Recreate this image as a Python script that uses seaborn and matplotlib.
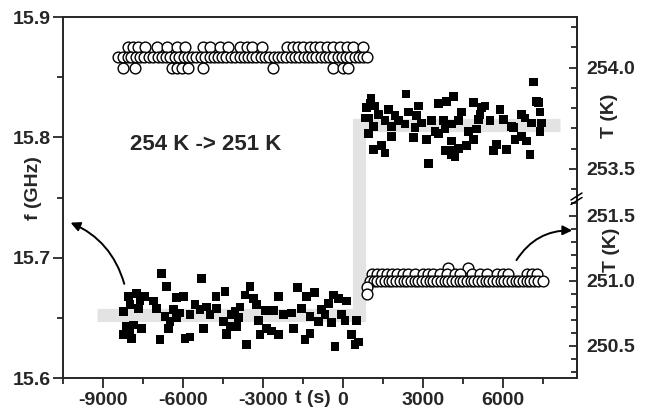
import matplotlib
matplotlib.use("Agg")
import matplotlib.pyplot as plt
from matplotlib.lines import Line2D
from matplotlib.ticker import MultipleLocator
import pandas as pd
import seaborn as sns

# frequency readings (black squares), before and after the step
sq_lo_t = [-6800, -5300, -6610, -8050, -7740, -7425, -7110, -7610, -7990, -6240, -5990, -4425, -4760,
           -8240, -7675, -6990, -6360, -6675, -6110, -5740, -5550, -5360, -5110, -4740, -4990, -8110,
           -7860, -7550, -7990, -8240, -7925, -6550, -6490, -6240, -6860, -5925, -5740, -5240, -4490,
           -4360, -3490, -3675, -3360, -3240, -2425, -1700, -1360, -1075, -360, -175, -550, 140, -4050,
           -3860, -4175, -3925, -2925, -2610, -2240, -1925, -1550, -1240, -800, -675, -925, -425, -50,
           75, 510, -3175, -4240, -3990, -2860, -2675, -2425, -1860, -3110, -1240, -1425, 325, 575, 450,
           -3610, -300, -4360]
sq_lo_f = [15.687, 15.683, 15.676, 15.668, 15.670, 15.668, 15.664, 15.664, 15.661, 15.667, 15.668, 15.672, 15.668,
           15.655, 15.658, 15.658, 15.657, 15.651, 15.654, 15.653, 15.661, 15.657, 15.659, 15.658, 15.653, 15.643,
           15.644, 15.641, 15.639, 15.636, 15.633, 15.641, 15.647, 15.650, 15.632, 15.633, 15.634, 15.641, 15.647,
           15.637, 15.676, 15.669, 15.666, 15.661, 15.668, 15.675, 15.668, 15.671, 15.669, 15.666, 15.662, 15.664, 15.655,
           15.659, 15.653, 15.650, 15.656, 15.656, 15.653, 15.654, 15.658, 15.651, 15.657, 15.653, 15.647, 15.646, 15.653,
           15.648, 15.648, 15.648, 15.643, 15.643, 15.641, 15.639, 15.636, 15.641, 15.636, 15.637, 15.632, 15.636, 15.630, 15.628,
           15.628, 15.626, 15.636]

sq_hi_t = [2362, 1050, 887, 1200, 1700, 2825, 3575, 3887, 4137, 950, 1325, 1950, 2450, 2762, 1575, 2075,
           2950, 3325, 3762, 4075, 1137, 1825, 2325, 2700, 3450, 3825, 950, 1825, 2637, 3137, 3575, 1450,
           1137, 1575, 3200, 4075, 3825, 4075, 4887, 5200, 5325, 5137, 5512, 5887, 6012, 6325, 6387, 6700,
           6825, 7137, 7262, 7325, 7387, 7450, 7387, 7075, 6700, 6887, 7012, 5637, 5762, 6137, 6450, 5012,
           4887, 4637, 4325, 4200, 4012, 5075, 4450, 4325, 4700, 825, 1012]
sq_hi_f = [15.836, 15.832, 15.825, 15.826, 15.823, 15.826, 15.828, 15.830, 15.834, 15.816, 15.819, 15.818, 15.821, 15.818, 15.814, 15.814,
           15.812, 15.814, 15.814, 15.811, 15.809, 15.809, 15.811, 15.808, 15.805, 15.807, 15.803, 15.801, 15.800, 15.798, 15.803, 15.793,
           15.790, 15.787, 15.778, 15.797, 15.789, 15.786, 15.829, 15.825, 15.826, 15.819, 15.814, 15.823, 15.815, 15.809, 15.808, 15.819,
           15.816, 15.846, 15.830, 15.829, 15.821, 15.812, 15.805, 15.812, 15.801, 15.797, 15.786, 15.789, 15.794, 15.790, 15.798, 15.807,
           15.798, 15.793, 15.791, 15.784, 15.789, 15.815, 15.821, 15.814, 15.805, 15.816, 15.828]

# temperature readings (open circles), quantised in 0.05 K steps
hi_levels = [254.1, 254.05, 254.0]
hi_rows_t = [
    [-8050, -7860, -7675, -7425, -6990, -6610, -6240, -5925, -5240, -4990, -4610, -4300, -3860, -3610,
     -3425, -3050, -2110, -1860, -1675, -1490, -1240, -1050, -860, -610, -360, -110, 140, 390, 760],
    [-8420, -8250, -8080, -7940, -7760, -7600, -7450, -7270, -7120, -6950, -6800, -6630, -6480, -6300,
     -6150, -5980, -5820, -5650, -5500, -5330, -5180, -5000, -4850, -4690, -4520, -4370, -4200, -4050,
     -3880, -3720, -3560, -3400, -3250, -3080, -2920, -2760, -2600, -2440, -2280, -2120, -1960, -1800,
     -1640, -1480, -1320, -1160, -1000, -840, -680, -520, -360, -200, -40, 120, 280, 440, 600, 760, 890],
    [-8240, -7800, -6425, -6240, -6050, -5800, -5240, -2610, -360, 10, 200],
]
lo_levels = [251.1, 251.05, 251.0]
lo_rows_t = [
    [3950, 4700],
    [1075, 1262, 1450, 1637, 1825, 2012, 2262, 2450, 2700, 3012, 3200, 3387, 3637, 3887, 4200, 4387,
     4825, 5137, 5387, 5762, 6012, 6200, 6887, 7075, 7262],
    [1010, 1150, 1290, 1430, 1570, 1710, 1850, 1990, 2130, 2270, 2410, 2550, 2690, 2830, 2970, 3110,
     3250, 3390, 3530, 3670, 3810, 3950, 4090, 4230, 4370, 4510, 4650, 4790, 4930, 5070, 5210, 5350,
     5490, 5630, 5770, 5910, 6050, 6190, 6330, 6470, 6610, 6750, 6890, 7030, 7170, 7310, 7510],
]
trans_t = [900, 890]
trans_T = [250.95, 250.90]

# grey guide (step of f)
step_t = [-9225, 600, 600, 8140]
step_f = [15.6525, 15.6525, 15.81, 15.81]

sns.set_style("ticks")
plt.rcParams['font.family'] = ['Liberation Sans', 'DejaVu Sans']
plt.rcParams['font.weight'] = 'bold'
plt.rcParams['axes.unicode_minus'] = False
plt.rcParams['axes.linewidth'] = 1.4

W, H = 659, 415
fig = plt.figure(figsize=(W / 100, H / 100), dpi=100)
L, R, T, B = 63, 577, 17, 378
BRK = 198
ax = fig.add_axes([L / W, (H - B) / H, (R - L) / W, (B - T) / H])
ax_hi = fig.add_axes([L / W, (H - BRK) / H, (R - L) / W, (BRK - T) / H])
ax_lo = fig.add_axes([L / W, (H - B) / H, (R - L) / W, (B - BRK) / H])

xlim = (-10500, 8775)
fs = 14

sq = pd.DataFrame({'t': sq_lo_t + sq_hi_t, 'f': sq_lo_f + sq_hi_f})
step = pd.DataFrame({'t': step_t, 'f': step_f})

sns.lineplot(data=step, x='t', y='f', sort=False, estimator=None, color='#e3e3e3',
             lw=9.5, solid_capstyle='butt', solid_joinstyle='miter', ax=ax, zorder=1)
sns.scatterplot(data=sq, x='t', y='f', marker='s', s=40, color='black', edgecolor='none',
                linewidth=0, ax=ax, zorder=3)

ax.set_xlim(*xlim)
ax.set_ylim(15.6, 15.9)
ax.xaxis.set_minor_locator(MultipleLocator(1500))
ax.yaxis.set_major_locator(MultipleLocator(0.1))
ax.yaxis.set_minor_locator(MultipleLocator(0.05))
ax.set_xticks([-9000, -6000, -3000, 0, 3000, 6000])
ax.set_xticklabels(['-9000', '-6000', '-3000', '0', '3000', '6000'])
ax.tick_params(which='both', direction='out', width=1.3, labelsize=fs, top=False, right=False)
ax.tick_params(which='major', length=7)
ax.tick_params(which='minor', length=4)
ax.tick_params(axis='x', pad=3)
ax.tick_params(axis='y', pad=1.5)
ax.set_xlabel('')
ax.set_ylabel('')
for lab in ax.get_xticklabels() + ax.get_yticklabels():
    lab.set_fontweight('bold')


def circles(rows, levels):
    tt, vv = [], []
    for row, lev in zip(rows, levels):
        tt += row
        vv += [lev] * len(row)
    return pd.DataFrame({'t': tt, 'T': vv})


hi = circles(hi_rows_t, hi_levels)
lo = circles(lo_rows_t, lo_levels)
lo = pd.concat([lo, pd.DataFrame({'t': trans_t, 'T': trans_T})])

for a, d, lim, majors in [(ax_hi, hi, (253.356, 254.25), [253.5, 254.0]),
                          (ax_lo, lo, (250.25, 251.635), [250.5, 251.0, 251.5])]:
    sns.scatterplot(data=d, x='t', y='T', marker='o', s=60, facecolor='white',
                    edgecolor='black', linewidth=1.0, ax=a, zorder=3)
    a.set_xlim(*xlim)
    a.set_ylim(*lim)
    a.patch.set_visible(False)
    for s in ['left', 'top', 'bottom']:
        a.spines[s].set_visible(False)
    a.yaxis.tick_right()
    a.set_yticks(majors)
    a.set_yticklabels([f'{m:.1f}' for m in majors])
    a.yaxis.set_minor_locator(MultipleLocator(0.1))
    a.set_xticks([])
    a.tick_params(which='both', direction='in', width=1.3, labelsize=fs, pad=7, left=False)
    a.tick_params(which='major', length=6)
    a.tick_params(which='minor', length=4)
    a.set_xlabel('')
    a.set_ylabel('')
    for lab in a.get_yticklabels():
        lab.set_fontweight('bold')

# axis break marks on the right spine
for dy in (0, 4.5):
    fig.add_artist(Line2D([(R - 6) / W, (R + 5) / W],
                          [(H - BRK - 2 - dy) / H, (H - BRK + 5 - dy) / H],
                          color='black', lw=1.1))

fig.text(33 / W, 1 - 188 / H, 'f (GHz)', rotation=90, ha='center', va='center',
         fontsize=fs, fontweight='bold')
fig.text(313 / W, 1 - 398 / H, 't (s)', ha='center', va='center', fontsize=fs, fontweight='bold')
fig.text(609 / W, 1 - 116 / H, 'T (K)', rotation=90, ha='center', va='center',
         fontsize=fs, fontweight='bold')
fig.text(612 / W, 1 - 250 / H, 'T (K)', rotation=90, ha='center', va='center',
         fontsize=fs, fontweight='bold')

ax.text(-7990, 15.794, '254 K -> 251 K', ha='left', va='center', fontsize=16, fontweight='bold')

ax.annotate('', xy=(-10312, 15.730), xytext=(-8175, 15.676),
            arrowprops=dict(arrowstyle='-|>', connectionstyle='arc3,rad=0.25',
                            color='black', lw=1.4, mutation_scale=14), annotation_clip=False)
ax.annotate('', xy=(8700, 15.7225), xytext=(6450, 15.696),
            arrowprops=dict(arrowstyle='-|>', connectionstyle='arc3,rad=-0.3',
                            color='black', lw=1.4, mutation_scale=14), annotation_clip=False)

fig.savefig('out.png', dpi=100)
